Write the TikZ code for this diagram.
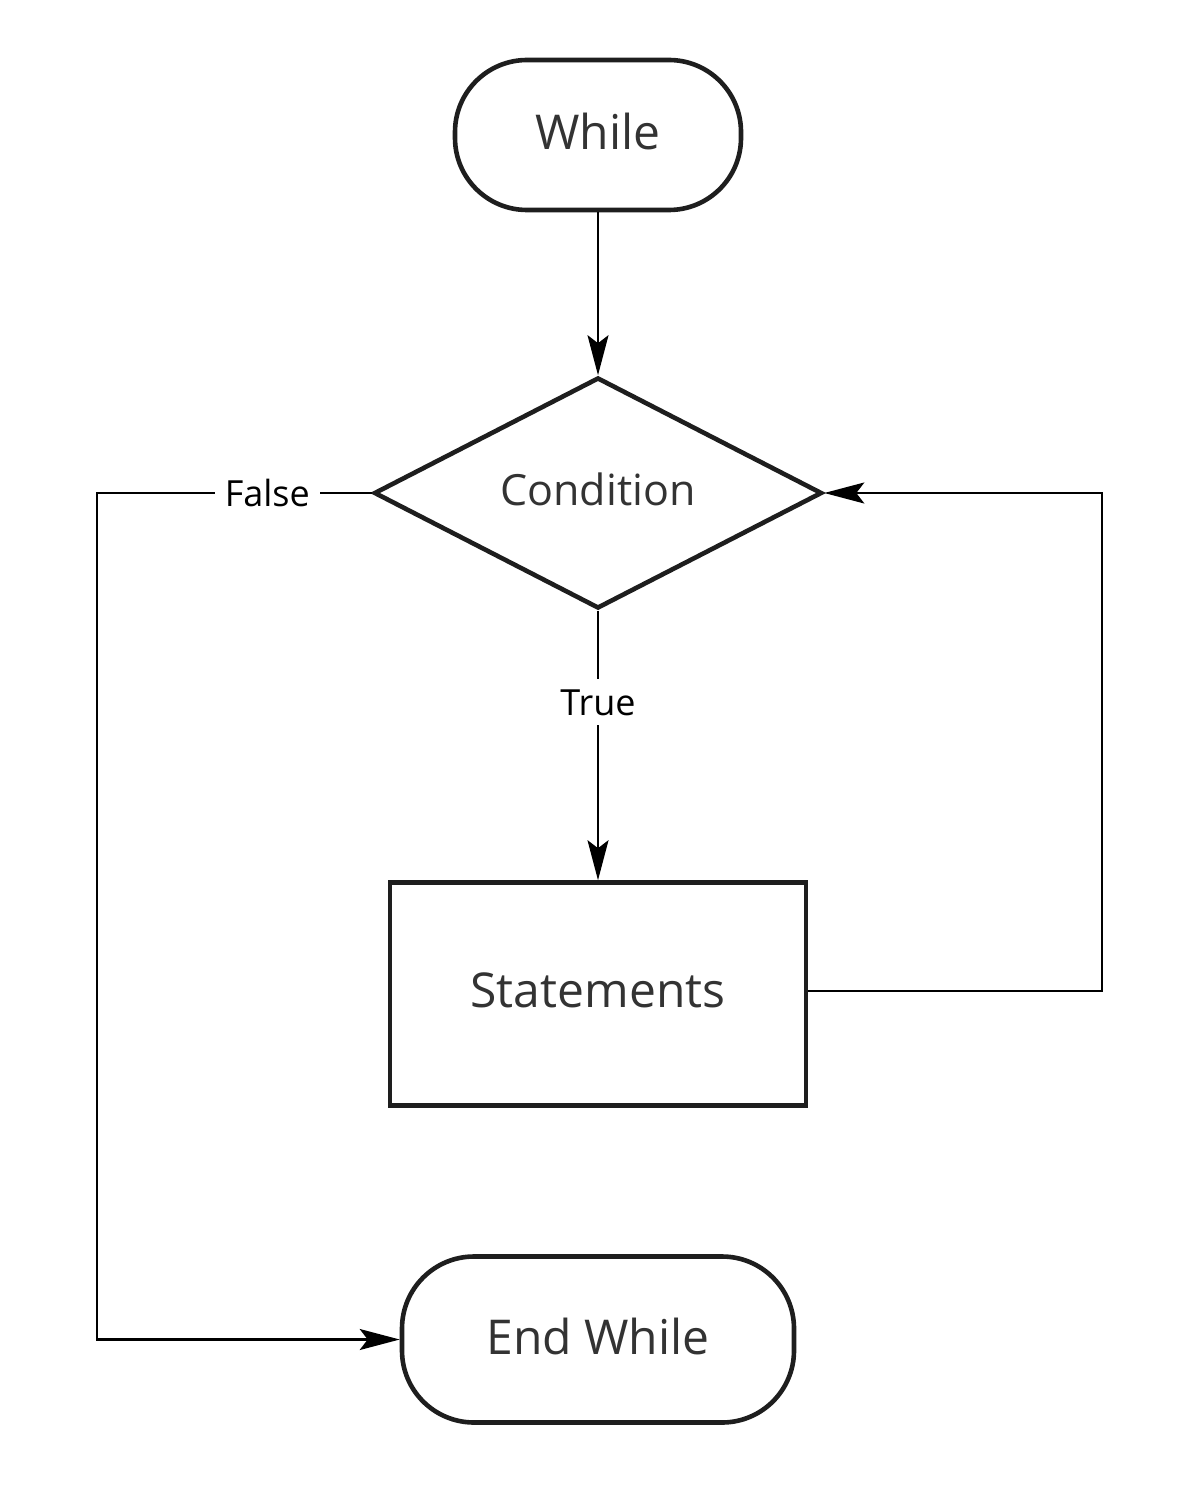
\documentclass[tikz,border=0pt]{standalone}
\usepackage{fontspec}
\setmainfont{Open Sans}
\usetikzlibrary{shapes.geometric,arrows.meta}
\definecolor{edge}{HTML}{1E1E1E}
\definecolor{txt}{HTML}{333333}
\newcommand\liftup[1]{\raisebox{1.6pt}[\height][\depth]{#1}}
\begin{document}
\begin{tikzpicture}[x=0.5pt,y=-0.5pt,
  term/.style={draw=edge, line width=2.3pt, rounded corners=36pt, inner sep=0pt,
    text=txt, font=\fontsize{24}{28}\selectfont},
  procbox/.style={draw=edge, line width=2.3pt, inner sep=0pt, minimum width=208pt,
    minimum height=111.5pt, text=txt, font=\fontsize{24}{28}\selectfont},
  decbox/.style={diamond, draw=edge, line width=2.3pt, inner sep=0pt, minimum width=224pt,
    minimum height=115.5pt, text=txt, font=\fontsize{21.5}{26}\selectfont},
  conn/.style={draw=black, line width=1.1pt, -{Stealth[length=20pt,width=10.5pt,inset=4pt]}},
  lbl/.style={fill=white, inner sep=5pt, text=black, font=\fontsize{18}{22}\selectfont}
]
\useasboundingbox (0,0) rectangle (1200,1492);
\node[term, minimum width=143pt, minimum height=75pt] (while) at (598,135) {\liftup{While}};
\node[decbox] (cond) at (598,493) {\liftup{Condition}};
\node[procbox] (stmt) at (598,994) {\liftup{Statements}};
\node[term, minimum width=196pt, minimum height=83pt] (endw) at (598,1339.5) {\liftup{End While}};
\coordinate (fl) at (97,0);
\coordinate (rl) at (1102,0);
\draw[conn] (while) -- (cond);
\draw[conn] (cond) -- node[lbl, pos=0.34] {True} (stmt);
\draw[conn] (cond.west) -- node[lbl, pos=0.38] {False} (cond.west -| fl) |- (endw.west);
\draw[conn] ([yshift=1.5pt]stmt.east) -- ([yshift=1.5pt]stmt.east -| rl) |- (cond.east);
\end{tikzpicture}
\end{document}
